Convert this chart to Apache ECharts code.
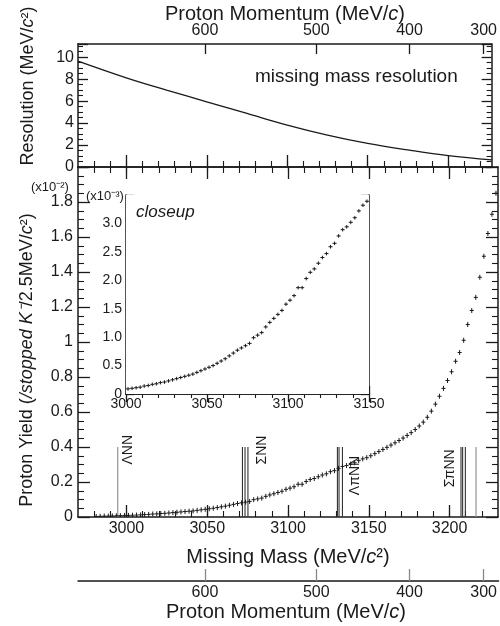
<!DOCTYPE html>
<html><head><meta charset="utf-8">
<script src="https://cdn.jsdelivr.net/npm/echarts@6/dist/echarts.min.js"></script>
<style>html,body{margin:0;padding:0;background:#fff}#c{width:500px;height:626px}</style>
</head><body><div id="c"></div>
<script>
// ---- data ----
// proton yield per 2.5 MeV bin, in units of 1e-3 /stopped K-
const binCenters = [2981.25,2983.75,2986.25,2988.75,2991.25,2993.75,2996.25,2998.75,
 3001.25,3003.75,3006.25,3008.75,3011.25,3013.75,3016.25,3018.75,3021.25,3023.75,3026.25,3028.75,
 3031.25,3033.75,3036.25,3038.75,3041.25,3043.75,3046.25,3048.75,3051.25,3053.75,3056.25,3058.75,
 3061.25,3063.75,3066.25,3068.75,3071.25,3073.75,3076.25,3078.75,3081.25,3083.75,3086.25,3088.75,
 3091.25,3093.75,3096.25,3098.75,3101.25,3103.75,3106.25,3108.75,3111.25,3113.75,3116.25,3118.75,
 3121.25,3123.75,3126.25,3128.75,3131.25,3133.75,3136.25,3138.75,3141.25,3143.75,3146.25,3148.75,
 3151.25,3153.75,3156.25,3158.75,3161.25,3163.75,3166.25,3168.75,3171.25,3173.75,3176.25,3178.75,
 3181.25,3183.75,3186.25,3188.75,3191.25,3193.75,3196.25,3198.75,3201.25,3203.75,3206.25,3208.75,
 3211.25,3213.75,3216.25,3218.75,3221.25,3223.75,3226.25,3228.75];
const yieldE3 = [0.03,0.04,0.05,0.05,0.06,0.07,0.08,0.09,
 0.09,0.10,0.11,0.12,0.14,0.15,0.17,0.18,0.20,0.21,0.23,0.25,
 0.27,0.29,0.31,0.33,0.35,0.38,0.41,0.44,0.47,0.50,0.54,0.58,
 0.62,0.67,0.72,0.77,0.81,0.85,0.89,0.99,1.035,1.08,1.18,1.26,
 1.33,1.40,1.47,1.58,1.65,1.73,1.87,1.87,2.03,2.14,2.20,2.30,
 2.40,2.47,2.59,2.65,2.78,2.89,2.94,3.02,3.10,3.22,3.32,3.39,
 3.50,3.62,3.74,3.86,3.98,4.11,4.24,4.37,4.51,4.66,4.82,5.00,
 5.20,5.42,5.70,6.05,6.45,6.90,7.35,7.80,8.30,8.90,9.40,10.1,
 11.0,11.8,12.55,13.7,14.9,16.2,17.3,18.5];
// missing mass resolution curve
const resMass  = [2970, 3000, 3025, 3050, 3075, 3100, 3125, 3150, 3175, 3200, 3227];
const resValue = [9.64, 8.12, 7.00, 5.94, 4.88, 3.82, 2.91, 2.15, 1.55, 1.03, 0.64];
// threshold lines (MeV/c2), height (x1e-2), shade (0 dark, 1 light)
const thrMass   = [2994.6, 3071.8, 3073.4, 3075.2, 3130.6, 3131.6, 3133.7, 3207.1, 3208.1, 3209.8, 3216.4];
const thrHeight = [0.4,0.4,0.4,0.4,0.4,0.4,0.4,0.4,0.4,0.4,0.4];
const thrShade  = [1,0,0,0,0,0,0,0,0,0,1];
const thrLabels    = ['ΛNN', 'ΣNN', 'ΛπNN', 'ΣπNN'];
const thrLabelMass = [3001.2, 3084.3, 3141.4, 3200.2];
const thrLabelY    = [0.30, 0.30, 0.125, 0.17];
// tick labels
const massTicks = [3000, 3050, 3100, 3150, 3200];
const momentumTicks = [600, 500, 400, 300];

// ---- kinematics: K- (stopped) + 4He -> p + X ----
const mK = 493.677, mHe = 3727.379, mp = 938.272, Mtot = mK + mHe;
function massFromP(p){ const E = Math.sqrt(p*p + mp*mp); return Math.sqrt(Mtot*Mtot + mp*mp - 2*Mtot*E); }
function pFromMass(m){ const E = (Mtot*Mtot + mp*mp - m*m)/(2*Mtot); return Math.sqrt(Math.max(E*E - mp*mp, 0)); }
const momentumTickMass = momentumTicks.map(massFromP);
const minorMass = []; for (let v = 2980; v <= 3220; v += 10) minorMass.push(v);

const FONT = '"Liberation Sans", Arial, sans-serif';
const INK = '#1a1a1a';
const axLine = {show:true, lineStyle:{color:INK, width:1.5}};

function crossRender(halfPx){
  return function(params, api){
    const x = api.value(0), y = api.value(1);
    const c = api.coord([x, y]);
    const l = api.coord([x - 1.25, y]);
    const r = api.coord([x + 1.25, y]);
    return {type:'group', children:[
      {type:'line', shape:{x1:l[0], y1:c[1], x2:r[0], y2:c[1]}, style:{stroke:INK, lineWidth:1}},
      {type:'line', shape:{x1:c[0], y1:c[1]-halfPx, x2:c[0], y2:c[1]+halfPx}, style:{stroke:INK, lineWidth:1}}
    ]};
  };
}

const mainData = binCenters.map((m,i)=>[m, yieldE3[i]/10]);
const insetData = binCenters.map((m,i)=>[m, yieldE3[i]]).filter(d=>d[0]>3000 && d[0]<3150);
const thrData = thrMass.map((m,i)=>[m, thrHeight[i], thrShade[i]]);
const lblData = thrLabelMass.map((m,i)=>[m, thrLabelY[i]]);
const resData = resMass.map((m,i)=>[m, resValue[i]]);

function mkX(grid, min, max, pos, opts){
  return Object.assign({type:'value', gridIndex:grid, min:min, max:max, position:pos,
    axisLine:axLine, splitLine:{show:false}, axisLabel:{show:false}, axisTick:{show:false}}, opts||{});
}
function mkY(grid, min, max, pos, opts){
  return Object.assign({type:'value', gridIndex:grid, min:min, max:max, position:pos,
    axisLine:axLine, splitLine:{show:false}, axisLabel:{show:false}, axisTick:{show:false}}, opts||{});
}
const majTick = (len, vals) => ({show:true, inside:true, length:len, customValues:vals, lineStyle:{color:INK, width:1.3}});
const minTickAx = (len) => ({show:true, inside:true, length:len, customValues:minorMass, lineStyle:{color:INK, width:1.1}});

const lbl16 = {fontSize:16, color:INK, fontFamily:FONT};

const option = {
  animation:false,
  backgroundColor:'#fff',
  grid:[
    {left:78, top:44, width:415, height:123},
    {left:78, top:167, width:420, height:350},
    {left:126, top:195, width:243, height:199, show:true, backgroundColor:'#fff', borderWidth:0, z:5},
    {left:78, top:580, width:422, height:1}
  ],
  xAxis:[
    mkX(0, 2970, 3227, 'bottom', {axisTick:majTick(12, massTicks)}),
    mkX(0, 2970, 3227, 'bottom', {axisLine:{show:false}, axisTick:minTickAx(6)}),
    mkX(0, 2970, 3227, 'top', {axisTick:majTick(10, momentumTickMass),
      axisLabel:Object.assign({show:true, margin:5, customValues:momentumTickMass,
        formatter:v=>String(Math.round(pFromMass(v)))}, lbl16)}),
    mkX(1, 2970, 3230, 'bottom', {axisTick:majTick(12, massTicks),
      axisLabel:Object.assign({show:true, margin:4, customValues:massTicks, formatter:v=>String(Math.round(v))}, lbl16)}),
    mkX(1, 2970, 3230, 'bottom', {axisLine:{show:false}, axisTick:minTickAx(6)}),
    mkX(1, 2970, 3230, 'top', {axisTick:majTick(12, massTicks)}),
    mkX(1, 2970, 3230, 'top', {axisLine:{show:false}, axisTick:minTickAx(6)}),
    mkX(2, 3000, 3150, 'bottom', {interval:50, axisTick:{show:true, inside:true, length:8, lineStyle:{color:INK,width:1.3}},
      minorTick:{show:true, splitNumber:5, length:4, lineStyle:{color:INK,width:1.1}},
      axisLabel:{show:true, margin:3, fontSize:14, color:INK, fontFamily:FONT, formatter:v=>String(Math.round(v))}}),
    mkX(2, 3000, 3150, 'top', {interval:50, axisTick:{show:true, inside:true, length:8, lineStyle:{color:INK,width:1.3}},
      minorTick:{show:true, splitNumber:5, length:4, lineStyle:{color:INK,width:1.1}}}),
    mkX(3, 2970, 3231.3, 'bottom', {axisTick:{show:true, inside:true, length:12, customValues:momentumTickMass, lineStyle:{color:'#888', width:1.3}},
      axisLabel:Object.assign({show:true, margin:4, customValues:momentumTickMass, formatter:v=>String(Math.round(pFromMass(v)))}, lbl16)})
  ],
  yAxis:[
    mkY(0, 0, 11.2, 'left', {interval:2, axisTick:{show:true, inside:true, length:10, lineStyle:{color:INK,width:1.3}},
      minorTick:{show:true, splitNumber:4, length:5, lineStyle:{color:INK,width:1.1}},
      axisLabel:Object.assign({show:true, margin:4, showMaxLabel:false}, lbl16)}),
    mkY(0, 0, 11.2, 'right', {interval:2, axisTick:{show:true, inside:true, length:10, lineStyle:{color:INK,width:1.3}},
      minorTick:{show:true, splitNumber:4, length:5, lineStyle:{color:INK,width:1.1}}}),
    mkY(1, 0, 2.0, 'left', {interval:0.2, axisTick:{show:true, inside:true, length:12, lineStyle:{color:INK,width:1.3}},
      minorTick:{show:true, splitNumber:4, length:6, lineStyle:{color:INK,width:1.1}},
      axisLabel:Object.assign({show:true, margin:5, showMaxLabel:false}, lbl16)}),
    mkY(1, 0, 2.0, 'right', {interval:0.2, axisTick:{show:true, inside:true, length:12, lineStyle:{color:INK,width:1.3}},
      minorTick:{show:true, splitNumber:4, length:6, lineStyle:{color:INK,width:1.1}}}),
    mkY(2, 0, 3.5, 'left', {interval:0.5, axisTick:{show:true, inside:true, length:8, lineStyle:{color:INK,width:1.3}},
      minorTick:{show:true, splitNumber:5, length:4, lineStyle:{color:INK,width:1.1}},
      axisLabel:{show:true, margin:4, showMaxLabel:false, fontSize:14, color:INK, fontFamily:FONT,
        formatter:v=> v===0 ? '0' : v.toFixed(1)}}),
    mkY(2, 0, 3.5, 'right', {interval:0.5, axisTick:{show:true, inside:true, length:8, lineStyle:{color:INK,width:1.3}},
      minorTick:{show:true, splitNumber:5, length:4, lineStyle:{color:INK,width:1.1}}}),
    mkY(3, 0, 1, 'left', {show:false})
  ],
  series:[
    {type:'line', xAxisIndex:0, yAxisIndex:0, data:resData, smooth:0.4, showSymbol:false,
      lineStyle:{color:INK, width:1.3}},
    {type:'custom', xAxisIndex:3, yAxisIndex:2, data:thrData, clip:true,
      renderItem:(params, api)=>{
        const m = api.value(0), h = api.value(1), s = api.value(2);
        const p0 = api.coord([m, 0]), p1 = api.coord([m, h]);
        return {type:'line', shape:{x1:p0[0], y1:p0[1], x2:p1[0], y2:p1[1]},
          style:{stroke: s ? '#8a8a8a' : '#333', lineWidth:1.1}};
      }},
    {type:'custom', xAxisIndex:3, yAxisIndex:2, data:lblData,
      renderItem:(params, api)=>{
        const p = api.coord([api.value(0), api.value(1)]);
        return {type:'text', x:p[0], y:p[1], rotation:Math.PI/2,
          style:{text:thrLabels[params.dataIndex], font:'14px ' + FONT, fill:INK, align:'left', verticalAlign:'middle'}};
      }},
    {type:'custom', xAxisIndex:3, yAxisIndex:2, data:mainData, renderItem:crossRender(2.5), clip:true, z:3},
    {type:'custom', xAxisIndex:7, yAxisIndex:4, data:insetData, renderItem:crossRender(1.8), clip:true, z:6}
  ],
  graphic:[
    {type:'text', x:285, y:14, style:{text:'{n|Proton Momentum (MeV/}{i|c}{n|)}', align:'center', verticalAlign:'middle',
      rich:{n:{fontSize:20, fontFamily:FONT, fill:INK}, i:{fontSize:20, fontFamily:FONT, fontStyle:'italic', fill:INK}}}},
    {type:'text', x:255, y:77, style:{text:'missing mass resolution', font:'19px ' + FONT, fill:INK, align:'left', verticalAlign:'middle'}},
    {type:'text', x:28, y:86, rotation:Math.PI/2, style:{text:'{n|Resolution (MeV/}{i|c}{n|²)}', align:'center', verticalAlign:'middle',
      rich:{n:{fontSize:18, fontFamily:FONT, fill:INK}, i:{fontSize:18, fontFamily:FONT, fontStyle:'italic', fill:INK}}}},
    {type:'text', x:27, y:360, rotation:Math.PI/2, style:{text:'{n|Proton Yield (}{i|/stopped K⁻}{n|/2.5MeV/}{i|c}{n|²)}', align:'center', verticalAlign:'middle',
      rich:{n:{fontSize:18, fontFamily:FONT, fill:INK}, i:{fontSize:18, fontFamily:FONT, fontStyle:'italic', fill:INK}}}},
    {type:'text', x:31, y:187, style:{text:'(x10⁻²)', font:'13px ' + FONT, fill:INK, align:'left', verticalAlign:'middle'}},
    {type:'text', x:86, y:196, z:10, style:{text:'(x10⁻³)', font:'13px ' + FONT, fill:INK, align:'left', verticalAlign:'middle'}},
    {type:'text', x:136, y:212, z:10, style:{text:'closeup', font:'italic 17px ' + FONT, fill:INK, align:'left', verticalAlign:'middle'}},
    {type:'text', x:288, y:557, style:{text:'{n|Missing Mass (MeV/}{i|c}{n|²)}', align:'center', verticalAlign:'middle',
      rich:{n:{fontSize:20, fontFamily:FONT, fill:INK}, i:{fontSize:20, fontFamily:FONT, fontStyle:'italic', fill:INK}}}},
    {type:'text', x:286, y:612, style:{text:'{n|Proton Momentum (MeV/}{i|c}{n|)}', align:'center', verticalAlign:'middle',
      rich:{n:{fontSize:20, fontFamily:FONT, fill:INK}, i:{fontSize:20, fontFamily:FONT, fontStyle:'italic', fill:INK}}}}
  ]
};
const chart = echarts.init(document.getElementById('c'), null, {renderer:'canvas'});
chart.setOption(option);
</script>
</body></html>
